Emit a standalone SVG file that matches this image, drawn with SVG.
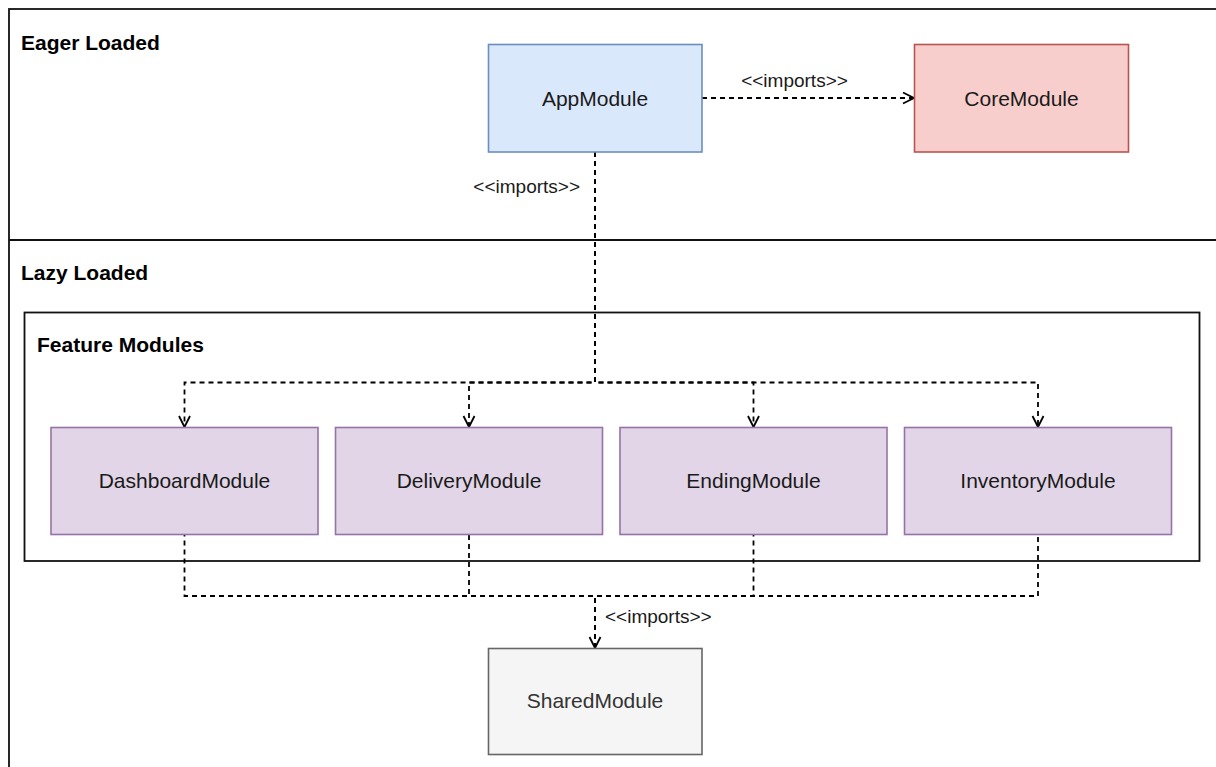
<svg xmlns="http://www.w3.org/2000/svg" width="1216" height="767" viewBox="0 0 1216 767">
  <style>
    .frame { fill: none; stroke: #111; stroke-width: 1.8; }
    .title { font-family: "Liberation Sans", Arial, sans-serif; font-size: 21px; font-weight: bold; fill: #000; }
    .box { stroke-width: 1.6; }
    .label { font-family: "Liberation Sans", Arial, sans-serif; font-size: 21px; fill: #1a1a1a; text-anchor: middle; }
    .edge { fill: none; stroke: #000; stroke-width: 1.8; stroke-dasharray: 5 4; }
    .edge-label { font-family: "Liberation Sans", Arial, sans-serif; font-size: 19px; fill: #1a1a1a; }
    .app { fill: #dae8fc; stroke: #6c8ebf; }
    .core { fill: #f8cecc; stroke: #b85450; }
    .feature { fill: #e1d5e7; stroke: #9673a6; }
    .shared { fill: #f5f5f5; stroke: #666666; }
  </style>
  <defs>
    <marker id="open-arrow" viewBox="0 0 14 13" refX="12" refY="6.5" markerWidth="14" markerHeight="13" markerUnits="userSpaceOnUse" orient="auto-start-reverse" overflow="visible">
      <path d="M1,1 L12,6.5 L1,12" fill="none" stroke="#000" stroke-width="1.8"/>
    </marker>
  </defs>

  <rect width="1216" height="767" fill="#fff"/>

  <!-- loading zones -->
  <g id="zones">
    <rect class="frame" x="9" y="9" width="1220" height="770"/>
    <line class="frame" x1="9" y1="240" x2="1229" y2="240"/>
    <text class="title" x="21" y="50">Eager Loaded</text>
    <text class="title" x="21" y="280">Lazy Loaded</text>
  </g>

  <!-- feature module container -->
  <g id="feature-modules">
    <rect class="frame" x="24.5" y="312.5" width="1175" height="248.5"/>
    <text class="title" x="37" y="352">Feature Modules</text>
  </g>

  <!-- connectors -->
  <g id="connectors">
    <path class="edge" d="M702,98 H914" marker-end="url(#open-arrow)"/>
    <path class="edge" d="M595,152 V382.5 H184.5 V427" marker-end="url(#open-arrow)"/>
    <path class="edge" d="M595,152 V382.5 H469 V427" marker-end="url(#open-arrow)"/>
    <path class="edge" d="M595,152 V382.5 H753.5 V427" marker-end="url(#open-arrow)"/>
    <path class="edge" d="M595,152 V382.5 H1038 V427" marker-end="url(#open-arrow)"/>
    <path class="edge" d="M595,648 V596 H184.5 V534.5" marker-start="url(#open-arrow)"/>
    <path class="edge" d="M595,648 V596 H469 V534.5"/>
    <path class="edge" d="M595,648 V596 H753.5 V534.5"/>
    <path class="edge" d="M595,648 V596 H1038 V534.5"/>
    <text class="edge-label" x="794.5" y="87" text-anchor="middle">&lt;&lt;imports&gt;&gt;</text>
    <text class="edge-label" x="580" y="193" text-anchor="end">&lt;&lt;imports&gt;&gt;</text>
    <text class="edge-label" x="605" y="623">&lt;&lt;imports&gt;&gt;</text>
  </g>

  <g id="app-module">
    <rect class="box app" x="488.5" y="44.5" width="213.5" height="107.5"/>
    <text class="label" x="595" y="106">AppModule</text>
  </g>

  <g id="core-module">
    <rect class="box core" x="914.5" y="44.5" width="214" height="107.5"/>
    <text class="label" x="1021.5" y="106">CoreModule</text>
  </g>

  <g id="dashboard-module">
    <rect class="box feature" x="51" y="427.5" width="267" height="107"/>
    <text class="label" x="184.5" y="488">DashboardModule</text>
  </g>

  <g id="delivery-module">
    <rect class="box feature" x="335.5" y="427.5" width="267" height="107"/>
    <text class="label" x="469" y="488">DeliveryModule</text>
  </g>

  <g id="ending-module">
    <rect class="box feature" x="620" y="427.5" width="267" height="107"/>
    <text class="label" x="753.5" y="488">EndingModule</text>
  </g>

  <g id="inventory-module">
    <rect class="box feature" x="904.5" y="427.5" width="267" height="107"/>
    <text class="label" x="1038" y="488">InventoryModule</text>
  </g>

  <g id="shared-module">
    <rect class="box shared" x="488.5" y="648.5" width="213.5" height="106"/>
    <text class="label" x="595" y="708" style="fill:#333333">SharedModule</text>
  </g>
</svg>
